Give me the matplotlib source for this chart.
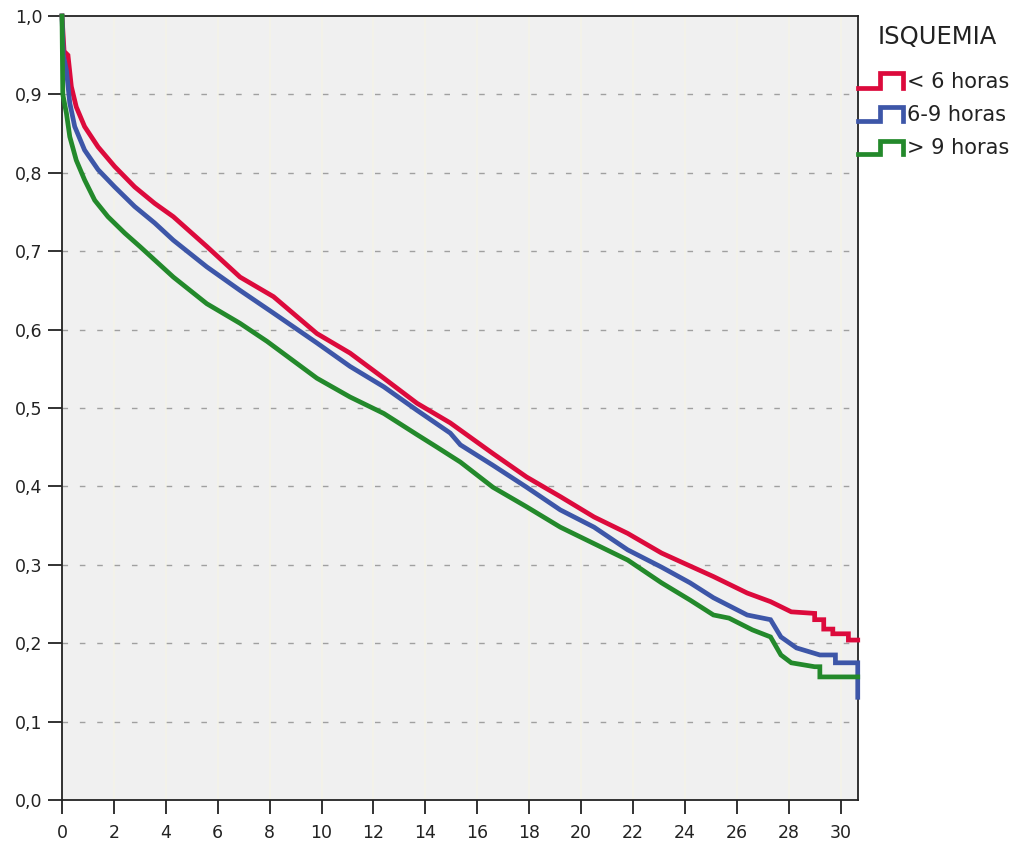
import numpy as np
import matplotlib
matplotlib.use("Agg")
import matplotlib.pyplot as plt

# survival curves (time in x units, cumulative survival)
groups = ["< 6 horas", "6-9 horas", "> 9 horas"]
colors = ["#dc0a3c", "#3d56a8", "#23892b"]

t_lt6 = [0, 0.08, 0.23, 0.36, 0.55, 0.87, 1.39, 2.03, 2.8, 3.57, 4.29, 5.58, 6.86, 8.15, 9.82,
         11.1, 12.4, 13.68, 14.96, 16.6, 17.9, 19.2, 20.5, 21.8, 23.1, 23.83, 25.1, 26.4,
         27.3, 28.1, 29.0, 29.0, 29.35, 29.35, 29.7, 29.7, 30.3, 30.3, 30.66]
s_lt6 = [1.0, 0.955, 0.950, 0.910, 0.884, 0.859, 0.833, 0.808, 0.782, 0.761, 0.744, 0.706,
         0.667, 0.642, 0.595, 0.570, 0.538, 0.506, 0.481, 0.442, 0.412, 0.387, 0.361, 0.340,
         0.315, 0.304, 0.285, 0.264, 0.253, 0.240, 0.238, 0.230, 0.230, 0.218, 0.218, 0.212,
         0.212, 0.204, 0.204]

t_6_9 = [0, 0.05, 0.17, 0.30, 0.49, 0.87, 1.39, 2.03, 2.8, 3.57, 4.29, 5.58, 6.86, 8.15, 9.82,
         11.1, 12.4, 13.68, 14.96, 15.35, 16.6, 17.9, 19.2, 20.5, 21.8, 23.1, 24.2, 25.1,
         26.4, 27.3, 27.7, 28.3, 29.2, 29.8, 29.8, 30.66, 30.66]
s_6_9 = [1.0, 0.95, 0.931, 0.889, 0.859, 0.829, 0.804, 0.782, 0.757, 0.736, 0.714, 0.680,
         0.650, 0.621, 0.583, 0.553, 0.527, 0.497, 0.468, 0.453, 0.427, 0.399, 0.370, 0.348,
         0.319, 0.297, 0.277, 0.258, 0.236, 0.230, 0.208, 0.194, 0.185, 0.185, 0.175, 0.175,
         0.131]

t_gt9 = [0, 0.03, 0.17, 0.30, 0.55, 0.87, 1.26, 1.77, 2.42, 3.0, 4.29, 5.58, 6.86, 7.9, 9.82,
         11.1, 12.4, 13.68, 14.45, 15.35, 16.6, 17.9, 19.2, 20.5, 21.8, 23.1, 24.2, 25.1,
         25.7, 26.6, 27.3, 27.7, 28.1, 29.0, 29.2, 29.2, 30.66]
s_gt9 = [1.0, 0.90, 0.876, 0.846, 0.816, 0.791, 0.765, 0.744, 0.723, 0.706, 0.667, 0.633,
         0.608, 0.585, 0.538, 0.514, 0.493, 0.466, 0.450, 0.431, 0.399, 0.374, 0.348, 0.327,
         0.306, 0.277, 0.255, 0.236, 0.232, 0.217, 0.208, 0.185, 0.175, 0.170, 0.170, 0.157,
         0.157]

times = [t_lt6, t_6_9, t_gt9]
survs = [s_lt6, s_6_9, s_gt9]

x_ticks = list(range(0, 31, 2))
y_ticks = [i / 10 for i in range(11)]
y_labels = [f"{v:.1f}".replace(".", ",") for v in y_ticks]

fig = plt.figure(figsize=(10.21, 8.5), dpi=100)
ax = fig.add_axes([62 / 1021, 1 - 800 / 850, (858 - 62) / 1021, (800 - 16) / 850])
ax.set_facecolor("#f0f0f0")

for xt in x_ticks:
    ax.axvline(xt, color="#f4f3e8", lw=1.2, zorder=1)
for yt in y_ticks[1:-1]:
    ax.axhline(yt, color="#a0a0a0", lw=1.0, dashes=(4, 8.5), zorder=1)

for t, s, c in zip(times, survs, colors):
    ax.plot(t, s, color=c, lw=3.4, solid_joinstyle="miter", zorder=3, clip_on=False)

ax.set_xlim(0, 30.67)
ax.set_ylim(0, 1.0)
ax.set_xticks(x_ticks)
ax.set_yticks(y_ticks)
ax.set_yticklabels(y_labels)
ax.tick_params(axis="both", direction="out", length=10, width=1.3, labelsize=12.5,
               colors="#222222")
ax.tick_params(axis="y", pad=4)
ax.tick_params(axis="x", pad=7)
for sp in ax.spines.values():
    sp.set_linewidth(1.3)
    sp.set_color("#222222")

# legend drawn by hand with step-shaped keys
W, H = 1021, 850
fig.text(937 / W, 1 - 37 / H, "ISQUEMIA", ha="center", va="center", fontsize=17.5,
         color="#222222")
rows = [(88, 73, 82), (121, 107, 115), (154, 141, 148)]
for (low, high, ty), c, g in zip(rows, colors, groups):
    xs = np.array([858, 880, 880, 903, 903]) / W
    ys = 1 - np.array([low, low, high, high, low]) / H
    fig.add_artist(plt.Line2D(xs, ys, color=c, lw=3.4, solid_joinstyle="miter",
                              transform=fig.transFigure))
    fig.text(907 / W, 1 - ty / H, g, ha="left", va="center", fontsize=15,
             color="#222222")

fig.savefig("out.png", dpi=100)
